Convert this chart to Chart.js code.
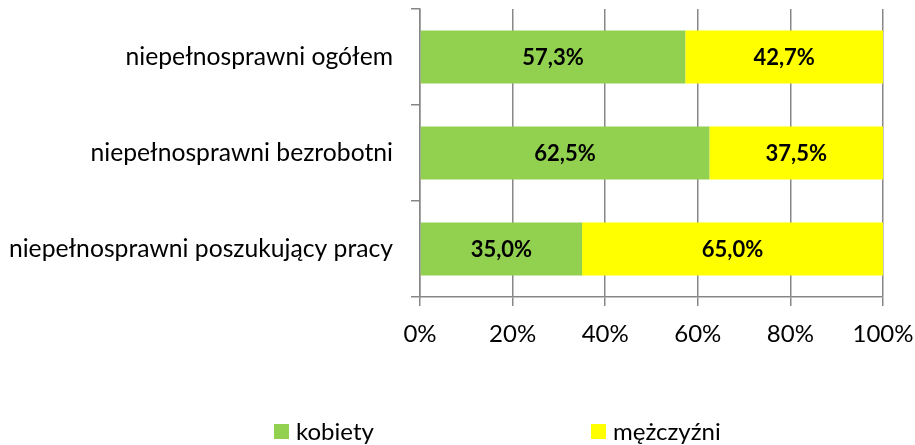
<!DOCTYPE html>
<html>
<head>
<meta charset="utf-8">
<script src="https://cdn.jsdelivr.net/npm/chart.js@4.4.0/dist/chart.umd.min.js"></script>
<style>
  html, body { margin: 0; padding: 0; background: #fff; }
  #wrap { width: 915px; height: 445px; position: relative; }
</style>
</head>
<body>
<div id="wrap"><canvas id="chart"></canvas></div>
<script>
const categories = [
  "niepełnosprawni ogółem",
  "niepełnosprawni bezrobotni",
  "niepełnosprawni poszukujący pracy",
];
const kobiety = [57.3, 62.5, 35.0];
const mezczyzni = [42.7, 37.5, 65.0];
const seriesNames = ["kobiety", "mężczyźni"];
const xTicks = [0, 20, 40, 60, 80, 100];

const var_green = "#92D050";
const var_yellow = "#FFFF00";
const var_grid = "#878787";
const var_font = "Lato, 'Open Sans', sans-serif";

// etykiety z wartościami na środku słupków
const valueLabels = {
  id: "valueLabels",
  afterDatasetsDraw(chart) {
    const { ctx } = chart;
    ctx.save();
    ctx.font = "bold 22px " + var_font;
    ctx.fillStyle = "#000";
    ctx.textAlign = "center";
    ctx.textBaseline = "middle";
    chart.data.datasets.forEach((ds, i) => {
      chart.getDatasetMeta(i).data.forEach((bar, j) => {
        const p = bar.getCenterPoint();
        ctx.fillText(ds.data[j].toFixed(1).replace(".", ",") + "%", p.x, p.y + 1);
      });
    });
    ctx.restore();
  },
};

// legenda rysowana ręcznie (duży odstęp między pozycjami)
const bottomLegend = {
  id: "bottomLegend",
  afterDraw(chart) {
    const { ctx } = chart;
    const startX = [274, 591];
    const y = 432;
    ctx.save();
    ctx.font = "24px " + var_font;
    ctx.textBaseline = "middle";
    chart.data.datasets.forEach((ds, i) => {
      ctx.fillStyle = ds.backgroundColor;
      ctx.fillRect(startX[i], y - 8, 15, 15);
      ctx.fillStyle = "#000";
      ctx.fillText(ds.label, startX[i] + 22, y);
    });
    ctx.restore();
  },
};

const ctx = document.getElementById("chart").getContext("2d");

const chart = new Chart(ctx, {
  type: "bar",
  data: {
    labels: categories,
    datasets: [
      {
        label: seriesNames[0],
        data: kobiety,
        backgroundColor: var_green,
        barPercentage: 0.55,
        categoryPercentage: 1,
      },
      {
        label: seriesNames[1],
        data: mezczyzni,
        backgroundColor: var_yellow,
        barPercentage: 0.55,
        categoryPercentage: 1,
      },
    ],
  },
  options: {
    indexAxis: "y",
    responsive: true,
    maintainAspectRatio: false,
    animation: false,
    layout: { padding: { top: 9, right: 32, bottom: 0, left: 0 } },
    plugins: {
      legend: { display: false },
      tooltip: { enabled: false },
    },
    scales: {
      x: {
        stacked: true,
        min: 0,
        max: 100,
        afterFit: (scale) => {
          scale.height = 148;
          scale.paddingLeft = 0;
          scale.paddingRight = 0;
        },
        afterBuildTicks: (scale) => {
          scale.ticks = xTicks.map((v) => ({ value: v }));
        },
        ticks: {
          color: "#000",
          font: { family: var_font, size: 24 },
          padding: 14,
          callback: (v) => v + "%",
        },
        grid: {
          color: var_grid,
          lineWidth: 1.5,
          tickLength: 9,
        },
        border: { display: true, color: var_grid, width: 1.5 },
      },
      y: {
        stacked: true,
        offset: true,
        afterFit: (scale) => {
          scale.width = 420;
          scale.paddingTop = 0;
          scale.paddingBottom = 0;
        },
        ticks: {
          color: "#000",
          font: { family: var_font, size: 24.7 },
          padding: 18,
        },
        grid: {
          offset: true,
          drawOnChartArea: false,
          color: var_grid,
          lineWidth: 1.5,
          tickLength: 9,
        },
        border: { display: true, color: var_grid, width: 1.5 },
      },
    },
  },
  plugins: [valueLabels, bottomLegend],
});
</script>
</body>
</html>
